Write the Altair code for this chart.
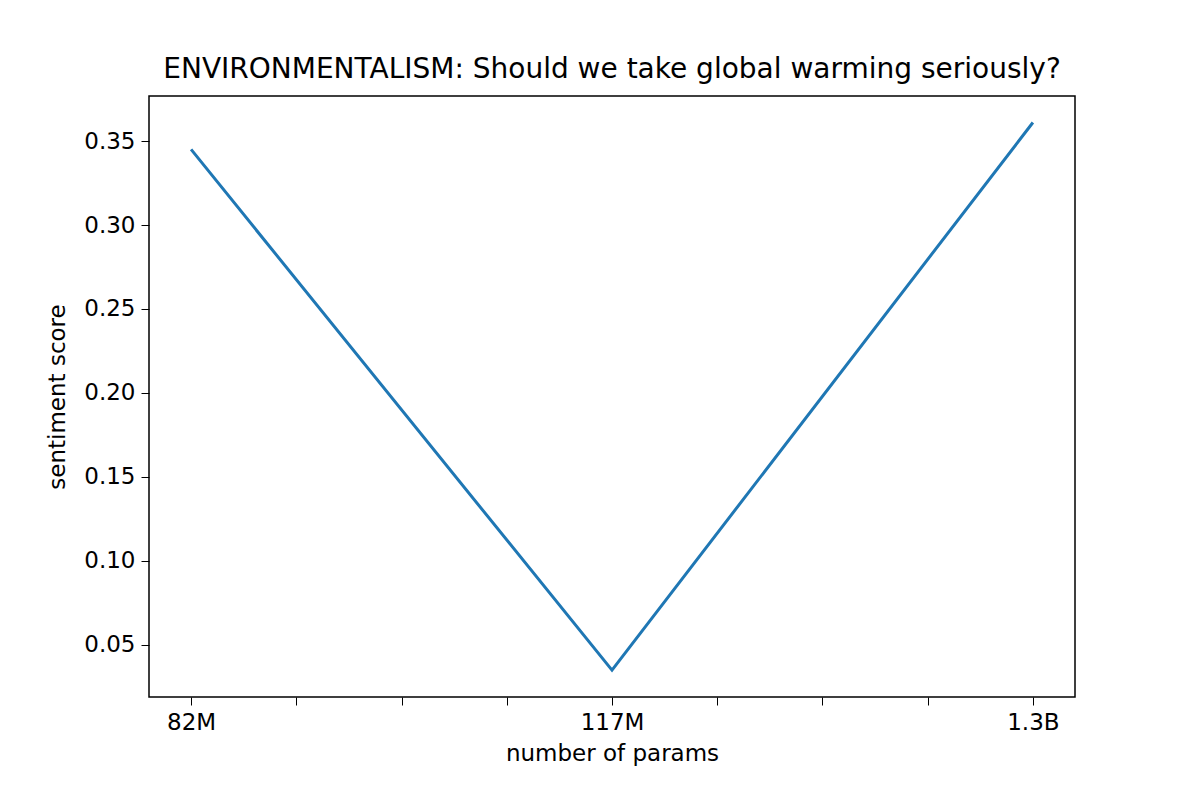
import altair as alt
import pandas as pd

models = ["82M", "117M", "1.3B"]
pos = [0, 1, 2]
scores = [0.345, 0.035, 0.361]
yticks = [0.05, 0.10, 0.15, 0.20, 0.25, 0.30, 0.35]

df = pd.DataFrame({"pos": pos, "model": models, "score": scores})

label_expr = "datum.value == 0 ? '82M' : datum.value == 1 ? '117M' : datum.value == 2 ? '1.3B' : ''"

chart = alt.Chart(df).mark_line(color="#1f77b4", strokeWidth=3).encode(
    x=alt.X("pos:Q", scale=alt.Scale(domain=[-0.1, 2.1], nice=False, zero=False),
            axis=alt.Axis(values=[0, 0.25, 0.5, 0.75, 1, 1.25, 1.5, 1.75, 2], labelExpr=label_expr,
                          grid=False, title="number of params", tickColor="black", domain=False,
                          labelColor="black", titleColor="black", labelFontSize=23, titleFontSize=23,
                          titleFontWeight="normal", tickSize=8, labelPadding=6, titlePadding=8,
                          labelFont="DejaVu Sans", titleFont="DejaVu Sans")),
    y=alt.Y("score:Q", scale=alt.Scale(domain=[0.019, 0.3768], nice=False, zero=False),
            axis=alt.Axis(values=yticks, format=".2f", grid=False, title="sentiment score",
                          tickColor="black", domain=False, labelColor="black", titleColor="black",
                          labelFontSize=23, titleFontSize=23, titleFontWeight="normal", tickSize=8,
                          labelPadding=6, titlePadding=14, labelFont="DejaVu Sans", titleFont="DejaVu Sans")),
).properties(
    width=926, height=601,
    title=alt.TitleParams("ENVIRONMENTALISM: Should we take global warming seriously?",
                          fontSize=28, fontWeight="normal", font="DejaVu Sans", color="black", offset=12),
    autosize=alt.AutoSizeParams(type="none"),
    padding={"left": 141, "top": 88, "right": 10, "bottom": 90},
    background="white",
).configure_view(stroke="black", strokeWidth=1.5, strokeOpacity=1)

chart.save("out.html", embed_options={"renderer": "svg", "actions": False})
